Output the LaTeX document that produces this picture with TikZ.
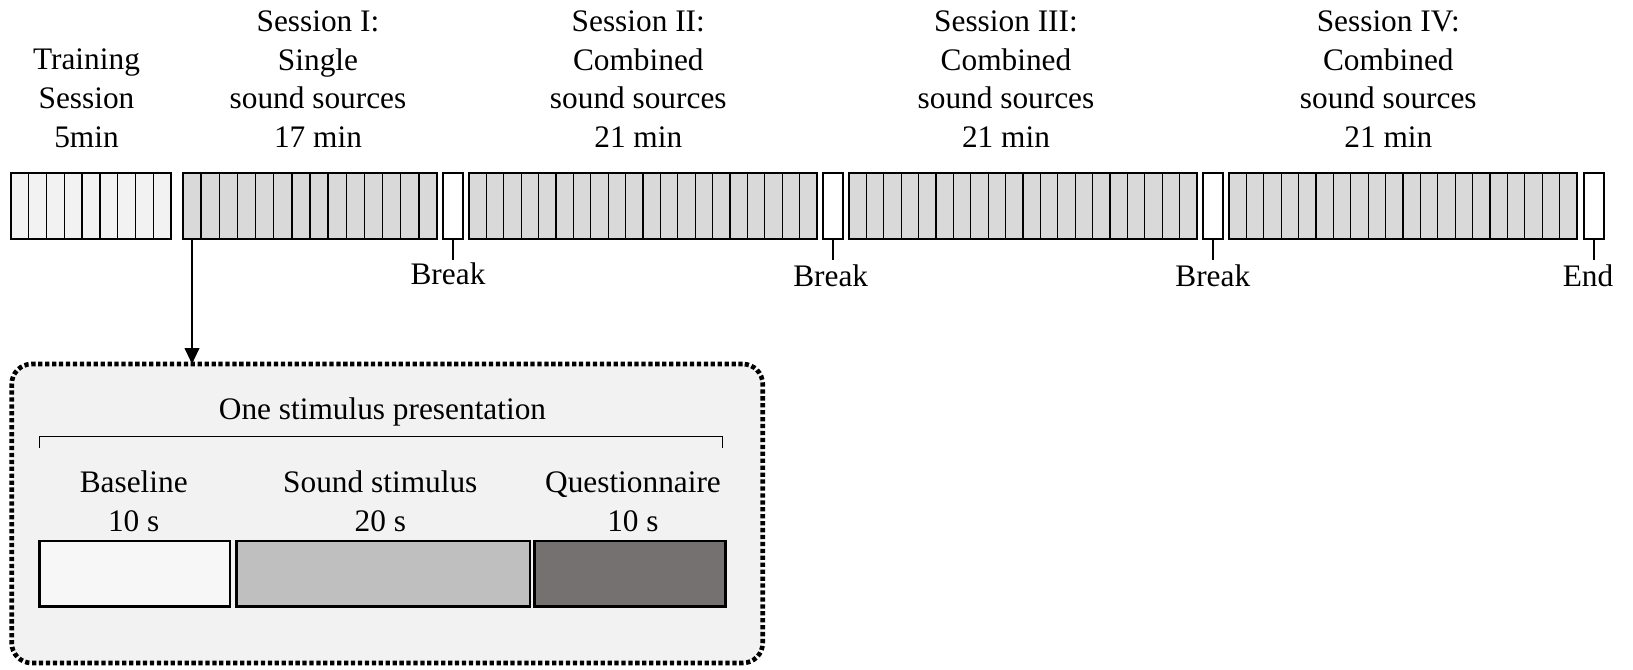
\documentclass[tikz,border=0pt]{standalone}
\usepackage{fontspec}
\setmainfont{Liberation Serif}
\usetikzlibrary{calc,fit,arrows.meta}
\definecolor{trainfill}{HTML}{F2F2F2}
\definecolor{sessfill}{HTML}{D9D9D9}
\definecolor{boxbg}{HTML}{F2F2F2}
\definecolor{basefill}{HTML}{F7F7F7}
\definecolor{soundfill}{HTML}{BFBFBF}
\definecolor{questfill}{HTML}{767171}
\begin{document}
\begin{tikzpicture}[x=0.75pt,y=-0.75pt,
  lbl/.style={font=\fontsize{23.5}{29}\selectfont, inner sep=0, align=center},
  blockbox/.style={draw, line width=2.2pt, inner sep=0, outer sep=0},
  cellline/.style={line width=1pt},
  tickline/.style={line width=2pt},
  detailbox/.style={draw, line width=3.5pt, dash pattern=on 3.2pt off 2pt, fill=boxbg, rounded corners=15pt, inner sep=0, outer sep=0},
  ]
\useasboundingbox (0,0) rectangle (1633,670);

% session blocks
\node[blockbox, fill=trainfill, fit={(11,173) (171,239)}] (T) {};
\node[blockbox, fill=sessfill, fit={(183,173) (437,239)}] (S1) {};
\node[blockbox, fill=sessfill, fit={(469,173) (817,239)}] (S2) {};
\node[blockbox, fill=sessfill, fit={(849,173) (1197,239)}] (S3) {};
\node[blockbox, fill=sessfill, fit={(1229,173) (1577,239)}] (S4) {};

\foreach \n/\k in {T/9, S1/14, S2/20, S3/20, S4/20} {
  \pgfmathtruncatemacro\m{\k-1}
  \foreach \i in {1,...,\m}
    \draw[cellline] ($(\n.north west)!\i/\k!(\n.north east)$) -- ($(\n.south west)!\i/\k!(\n.south east)$);
}

% breaks
\node[blockbox, fill=white, fit={(443,173) (463,239)}] (B1) {};
\node[blockbox, fill=white, fit={(823,173) (843,239)}] (B2) {};
\node[blockbox, fill=white, fit={(1203,173) (1223,239)}] (B3) {};
\node[blockbox, fill=white, fit={(1584,173) (1604,239)}] (E) {};

\draw[tickline] (B1.south) -- ++(0,21);
\draw[tickline] (B2.south) -- ++(0,21);
\draw[tickline] (B3.south) -- ++(0,21);
\draw[tickline] (E.south) -- ++(0,21);

\node[lbl, anchor=base] (lb1) at (448,284) {Break};
\node[lbl, anchor=base] (lb2) at (830.7,286) {Break};
\node[lbl, anchor=base] (lb3) at (1212.8,286) {Break};
\node[lbl, anchor=base] (lbe) at (1588,286) {End};

% top labels
\node[lbl, anchor=south] (tT) at (86.5,147.7) {Training\\Session\\5min};
\node[lbl, anchor=south] (tS1) at (318,147.7) {Session I:\\Single\\sound sources\\17 min};
\node[lbl, anchor=south] (tS2) at (638.3,147.7) {Session II:\\Combined\\sound sources\\21 min};
\node[lbl, anchor=south] (tS3) at (1006,147.7) {Session III:\\Combined\\sound sources\\21 min};
\node[lbl, anchor=south] (tS4) at (1388.3,147.7) {Session IV:\\Combined\\sound sources\\21 min};

% detail box
\node[detailbox, fit={(11.7,364) (762.7,663)}] (D) {};
\coordinate (ax) at (192,239);
\draw[line width=1.5pt, -{Triangle[length=12pt,width=11pt]}] (ax) -- (ax |- D.north);

\node[lbl, anchor=base] (osp) at (382.5,419) {One stimulus presentation};
\coordinate (brl) at (39.3,448);
\coordinate (brr) at (722.7,448);
\draw[line width=0.8pt] (brl) -- ++(0,-11.3) -- ($(brr)+(0,-11.3)$) -- (brr);

\node[lbl, anchor=south] (lbase) at (133.7,531.7) {Baseline\\10 s};
\node[lbl, anchor=south] (lsound) at (380.3,531.7) {Sound stimulus\\20 s};
\node[lbl, anchor=south] (lq) at (633,531.7) {Questionnaire\\10 s};

\node[blockbox, line width=2pt, fill=basefill, fit={(39.6,541) (230,606.5)}] (bb) {};
\node[blockbox, line width=2pt, fill=soundfill, fit={(236.4,541) (530,606.5)}] (bs) {};
\node[blockbox, line width=2pt, fill=questfill, fit={(534.3,541) (725.7,606.5)}] (bq) {};
\end{tikzpicture}
\end{document}
